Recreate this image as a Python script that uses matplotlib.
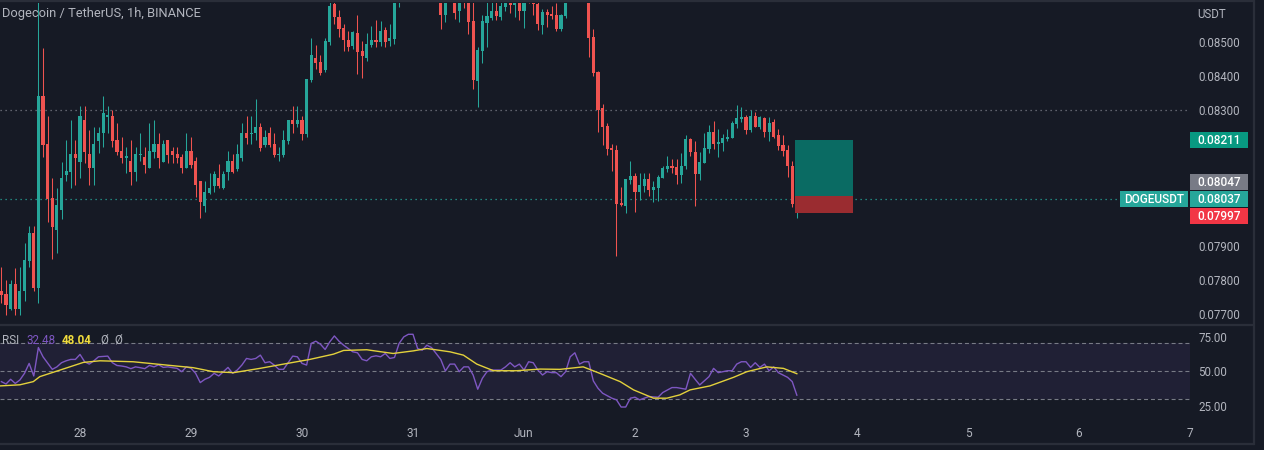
import numpy as np
import matplotlib.pyplot as plt
from matplotlib.patches import Rectangle
from matplotlib.lines import Line2D

W, H = 1264, 450
BG = "#161a25"
TXT = "#b2b5be"
UP = "#26a69a"
DOWN = "#ef5350"
GRID = "#787b86"
SEP = "#2a2e39"

plt.rcParams["font.family"] = ["Roboto", "DejaVu Sans"]

# ---- 1h candles, DOGE/USDT (first candle = 27 May 07:00) ----
opens = [
    0.07768, 0.07759, 0.07715, 0.07788, 0.07715, 0.07768, 0.07856, 0.07938, 0.07776, 0.08341,
    0.08200, 0.08041, 0.07947, 0.08006, 0.08109, 0.08118, 0.08171, 0.08147, 0.08271, 0.08171,
    0.08129, 0.08209, 0.08232, 0.08279, 0.08282, 0.08212, 0.08179, 0.08159, 0.08150, 0.08118,
    0.08168, 0.08162, 0.08129, 0.08176, 0.08200, 0.08147, 0.08212, 0.08179, 0.08171, 0.08162,
    0.08129, 0.08179, 0.08150, 0.08091, 0.08018, 0.08056, 0.08076, 0.08100, 0.08071, 0.08118,
    0.08150, 0.08126, 0.08159, 0.08232, 0.08229, 0.08232, 0.08250, 0.08197, 0.08232, 0.08200,
    0.08168, 0.08168, 0.08209, 0.08271, 0.08259, 0.08271, 0.08229, 0.08388, 0.08453, 0.08441,
    0.08418, 0.08500, 0.08612, 0.08573, 0.08541, 0.08506, 0.08488, 0.08526, 0.08474, 0.08453,
    0.08491, 0.08506, 0.08500, 0.08535, 0.08503, 0.08509, 0.08641, 0.08682, 0.08665, 0.08706,
    0.08676, 0.08653, 0.08694, 0.08729, 0.08682, 0.08647, 0.08579, 0.08635, 0.08647, 0.08591,
    0.08641, 0.08626, 0.08562, 0.08385, 0.08474, 0.08556, 0.08571, 0.08591, 0.08573, 0.08603,
    0.08629, 0.08609, 0.08626, 0.08591, 0.08635, 0.08626, 0.08612, 0.08550, 0.08588, 0.08582,
    0.08579, 0.08538, 0.08576, 0.08635, 0.08653, 0.08641, 0.08659, 0.08635, 0.08515, 0.08412,
    0.08306, 0.08253, 0.08188, 0.08182, 0.08026, 0.08018, 0.08094, 0.08106, 0.08059, 0.08076,
    0.08097, 0.08065, 0.08071, 0.08100, 0.08126, 0.08135, 0.08132, 0.08109, 0.08135, 0.08215,
    0.08176, 0.08112, 0.08144, 0.08185, 0.08235, 0.08200, 0.08203, 0.08215, 0.08218, 0.08259,
    0.08274, 0.08279, 0.08241, 0.08282, 0.08250, 0.08276, 0.08235, 0.08265, 0.08226, 0.08197,
    0.08182, 0.08135, 0.08024,
]
highs = [
    0.07838, 0.07800, 0.07800, 0.07835, 0.07838, 0.07909, 0.07959, 0.07959, 0.08653, 0.08482,
    0.08282, 0.08100, 0.08071, 0.08147, 0.08212, 0.08271, 0.08212, 0.08312, 0.08312, 0.08241,
    0.08250, 0.08250, 0.08341, 0.08312, 0.08300, 0.08262, 0.08221, 0.08191, 0.08212, 0.08191,
    0.08232, 0.08191, 0.08262, 0.08271, 0.08232, 0.08212, 0.08212, 0.08191, 0.08191, 0.08171,
    0.08232, 0.08221, 0.08162, 0.08091, 0.08091, 0.08115, 0.08121, 0.08141, 0.08121, 0.08179,
    0.08171, 0.08200, 0.08262, 0.08282, 0.08282, 0.08332, 0.08262, 0.08241, 0.08250, 0.08232,
    0.08191, 0.08241, 0.08271, 0.08312, 0.08312, 0.08282, 0.08391, 0.08512, 0.08491, 0.08462,
    0.08512, 0.08629, 0.08632, 0.08594, 0.08553, 0.08532, 0.08532, 0.08579, 0.08503, 0.08526,
    0.08547, 0.08565, 0.08562, 0.08544, 0.08553, 0.08659, 0.08700, 0.08712, 0.08729, 0.08723,
    0.08700, 0.08712, 0.08753, 0.08741, 0.08706, 0.08665, 0.08659, 0.08671, 0.08659, 0.08653,
    0.08665, 0.08647, 0.08624, 0.08485, 0.08579, 0.08624, 0.08624, 0.08624, 0.08624, 0.08647,
    0.08641, 0.08641, 0.08638, 0.08647, 0.08653, 0.08641, 0.08624, 0.08597, 0.08597, 0.08606,
    0.08615, 0.08582, 0.08653, 0.08671, 0.08676, 0.08676, 0.08682, 0.08653, 0.08538, 0.08415,
    0.08318, 0.08262, 0.08200, 0.08197, 0.08074, 0.08097, 0.08150, 0.08115, 0.08115, 0.08115,
    0.08115, 0.08091, 0.08109, 0.08135, 0.08165, 0.08156, 0.08156, 0.08174, 0.08226, 0.08218,
    0.08209, 0.08176, 0.08232, 0.08256, 0.08268, 0.08244, 0.08229, 0.08244, 0.08268, 0.08315,
    0.08309, 0.08285, 0.08300, 0.08294, 0.08282, 0.08279, 0.08279, 0.08274, 0.08244, 0.08226,
    0.08197, 0.08150, 0.08050,
]
lows = [
    0.07732, 0.07697, 0.07712, 0.07697, 0.07697, 0.07738, 0.07838, 0.07768, 0.07732, 0.08162,
    0.07971, 0.07862, 0.07879, 0.07979, 0.08091, 0.08071, 0.08079, 0.08100, 0.08144, 0.08079,
    0.08079, 0.08174, 0.08191, 0.08232, 0.08191, 0.08168, 0.08144, 0.08115, 0.08079, 0.08091,
    0.08150, 0.08115, 0.08129, 0.08159, 0.08129, 0.08147, 0.08144, 0.08144, 0.08144, 0.08115,
    0.08129, 0.08129, 0.08044, 0.07982, 0.08000, 0.08053, 0.08059, 0.08071, 0.08068, 0.08094,
    0.08115, 0.08121, 0.08150, 0.08200, 0.08200, 0.08212, 0.08179, 0.08191, 0.08191, 0.08162,
    0.08150, 0.08162, 0.08200, 0.08232, 0.08250, 0.08212, 0.08221, 0.08382, 0.08421, 0.08403,
    0.08412, 0.08491, 0.08553, 0.08515, 0.08474, 0.08474, 0.08479, 0.08406, 0.08394, 0.08444,
    0.08485, 0.08485, 0.08488, 0.08485, 0.08488, 0.08494, 0.08603, 0.08641, 0.08647, 0.08653,
    0.08635, 0.08641, 0.08676, 0.08665, 0.08632, 0.08538, 0.08559, 0.08626, 0.08568, 0.08559,
    0.08600, 0.08524, 0.08362, 0.08309, 0.08438, 0.08485, 0.08565, 0.08565, 0.08565, 0.08591,
    0.08585, 0.08573, 0.08565, 0.08541, 0.08615, 0.08579, 0.08535, 0.08524, 0.08544, 0.08568,
    0.08532, 0.08532, 0.08571, 0.08629, 0.08629, 0.08621, 0.08626, 0.08456, 0.08400, 0.08235,
    0.08197, 0.08168, 0.08121, 0.07871, 0.08018, 0.07997, 0.08082, 0.08000, 0.08035, 0.08059,
    0.08047, 0.08029, 0.08032, 0.08100, 0.08118, 0.08115, 0.08082, 0.08085, 0.08126, 0.08165,
    0.08018, 0.08094, 0.08144, 0.08174, 0.08185, 0.08162, 0.08179, 0.08209, 0.08218, 0.08247,
    0.08265, 0.08229, 0.08235, 0.08250, 0.08244, 0.08221, 0.08209, 0.08218, 0.08182, 0.08165,
    0.08103, 0.08015, 0.07982,
]
closes = [
    0.07756, 0.07726, 0.07788, 0.07715, 0.07768, 0.07859, 0.07938, 0.07776, 0.08341, 0.08197,
    0.08038, 0.07956, 0.08021, 0.08100, 0.08121, 0.08171, 0.08159, 0.08282, 0.08176, 0.08129,
    0.08200, 0.08232, 0.08291, 0.08285, 0.08209, 0.08176, 0.08159, 0.08165, 0.08118, 0.08171,
    0.08171, 0.08138, 0.08179, 0.08200, 0.08159, 0.08200, 0.08168, 0.08168, 0.08159, 0.08129,
    0.08179, 0.08138, 0.08079, 0.08029, 0.08059, 0.08071, 0.08112, 0.08076, 0.08112, 0.08150,
    0.08118, 0.08171, 0.08232, 0.08218, 0.08232, 0.08250, 0.08188, 0.08221, 0.08197, 0.08168,
    0.08171, 0.08212, 0.08271, 0.08259, 0.08271, 0.08229, 0.08391, 0.08462, 0.08438, 0.08409,
    0.08503, 0.08606, 0.08573, 0.08538, 0.08506, 0.08485, 0.08529, 0.08471, 0.08459, 0.08494,
    0.08506, 0.08500, 0.08532, 0.08500, 0.08512, 0.08647, 0.08682, 0.08665, 0.08706, 0.08676,
    0.08653, 0.08694, 0.08729, 0.08682, 0.08647, 0.08579, 0.08641, 0.08647, 0.08585, 0.08638,
    0.08626, 0.08559, 0.08388, 0.08476, 0.08562, 0.08576, 0.08591, 0.08576, 0.08606, 0.08629,
    0.08609, 0.08626, 0.08591, 0.08629, 0.08626, 0.08612, 0.08553, 0.08588, 0.08579, 0.08576,
    0.08538, 0.08579, 0.08635, 0.08653, 0.08641, 0.08659, 0.08635, 0.08512, 0.08409, 0.08300,
    0.08250, 0.08185, 0.08182, 0.08024, 0.08021, 0.08097, 0.08106, 0.08059, 0.08079, 0.08097,
    0.08065, 0.08074, 0.08103, 0.08129, 0.08135, 0.08129, 0.08109, 0.08135, 0.08215, 0.08176,
    0.08112, 0.08147, 0.08188, 0.08235, 0.08200, 0.08206, 0.08218, 0.08221, 0.08262, 0.08276,
    0.08279, 0.08241, 0.08282, 0.08250, 0.08279, 0.08235, 0.08262, 0.08221, 0.08194, 0.08179,
    0.08135, 0.08024, 0.08037,
]
first_hour = -17  # hours relative to 28 May 00:00

rsi_hours = [
    -17, -16, -15, -14, -13, -12, -11, -10, -9, -8, -6, -5, -4, -3, -2, -1, 0, 1, 2, 3,
    4, 6, 7, 8, 9, 10, 11, 12, 13, 14, 15, 16, 17, 18, 19, 20, 21, 22, 23, 24,
    25, 26, 27, 28, 29, 30, 31, 32, 33, 34, 35, 36, 37, 38, 39, 40, 41, 42, 43, 44,
    45, 46, 47, 48, 49, 50, 51, 52, 53, 54, 55, 56, 57, 59, 60, 61, 62, 63, 64, 65,
    66, 67, 68, 69, 70, 71, 72, 73, 74, 75, 76, 78, 79, 80, 81, 82, 83, 84, 85, 86,
    87, 88, 89, 91, 92, 93, 94, 95, 96, 97, 98, 99, 100, 101, 102, 103, 104, 105, 106, 107,
    108, 109, 110, 111, 112, 113, 115, 116, 117, 118, 119, 120, 121, 122, 123, 125, 126, 128, 129, 131,
    132, 133, 134, 136, 137, 138, 140, 141, 142, 143, 144, 145, 146, 147, 148, 149, 150, 151, 153, 154,
    155,
]
rsi_values = [
    42.3, 40.6, 44.0, 41.0, 43.5, 48.3, 55.5, 46.4, 67.0, 60.3, 51.2, 53.0, 56.0, 57.4, 58.4, 58.4, 62.0, 56.7, 55.0, 57.4,
    60.3, 60.8, 56.0, 54.0, 53.6, 53.0, 51.7, 53.0, 52.4, 51.7, 54.0, 53.0, 54.5, 52.6, 53.0, 52.4, 51.9, 49.5, 53.0, 52.0,
    48.3, 41.6, 44.0, 45.4, 48.3, 46.4, 49.5, 52.6, 48.3, 50.7, 54.3, 59.1, 58.4, 59.1, 61.5, 56.0, 56.7, 54.3, 51.2, 51.2,
    56.0, 60.8, 60.3, 55.5, 54.3, 70.0, 71.6, 69.4, 65.6, 71.1, 75.4, 71.6, 68.7, 63.9, 63.2, 58.4, 57.4, 60.3, 61.0, 60.3,
    62.7, 59.1, 59.8, 70.0, 74.7, 76.6, 76.6, 66.3, 65.1, 68.7, 67.0, 58.4, 50.0, 55.0, 55.0, 49.5, 53.0, 53.0, 47.1, 36.8,
    44.7, 49.5, 50.7, 50.7, 53.0, 56.0, 53.0, 55.0, 50.7, 56.7, 56.0, 50.7, 47.1, 49.5, 48.8, 48.8, 45.9, 49.5, 60.3, 63.2,
    55.0, 56.7, 56.7, 42.8, 37.5, 33.9, 30.3, 29.1, 23.9, 23.9, 30.3, 31.0, 29.1, 30.3, 31.5, 31.0, 34.4, 38.0, 38.0, 36.8,
    48.3, 44.0, 39.9, 45.9, 51.9, 48.8, 50.2, 50.2, 55.0, 56.7, 56.7, 52.6, 56.0, 52.6, 55.0, 50.2, 53.0, 48.8, 45.4, 42.3,
    32.48,
]
ma_hours = [
    -17.3, -13.0, -10.1, -8.7, -4.3, 0.7, 4.3, 11.5, 18.7, 24.5, 28.8, 33.2, 38.9, 44.0, 49.7, 54.8,
    57.0, 62.0, 67.7, 72.1, 75.0, 80.0, 82.9, 85.8, 89.4, 94.4, 99.5, 103.8, 108.8, 112.4, 116.8,
    119.7, 124.0, 126.9, 129.7, 131.9, 136.2, 141.3, 144.2, 148.5, 152.1, 155.0,
]
ma_values = [
    39.2, 40.0, 42.3, 45.9, 50.7, 56.2, 57.4, 56.7, 54.3, 52.4, 49.5, 48.8, 51.9, 55.0, 58.4, 62.2,
    64.9, 65.4, 62.7, 64.6, 66.3, 63.9, 61.5, 55.0, 50.2, 50.2, 51.4, 51.2, 53.0, 48.3, 42.3,
    36.3, 30.3, 30.3, 32.7, 36.3, 39.2, 45.4, 49.5, 53.0, 51.9, 48.04,
]

# ---- long position tool ----
entry, target, stop = 0.08047, 0.08211, 0.07997
pos_start, pos_end = 154.6, 167.1
level_line = 0.08300

price_ticks = [0.077, 0.078, 0.079, 0.080, 0.081, 0.082, 0.083, 0.084, 0.085]
hidden_ticks = [0.080, 0.081, 0.082]  # covered by the price tags in the screenshot

day_ticks = [0, 24, 48, 72, 96, 120, 144, 168, 192, 216, 240]
day_labels = ["28", "29", "30", "31", "Jun", "2", "3", "4", "5", "6", "7"]

o = np.array(opens)
c = np.array(closes)
hours = np.arange(len(closes)) + first_hour
is_up = c >= o
cols = np.where(is_up, UP, DOWN)


def px_rect(x0, y0, x1, y1):
    # pixel box (top-left origin) -> figure fraction rect
    return [x0 / W, 1 - y1 / H, (x1 - x0) / W, (y1 - y0) / H]


fig = plt.figure(figsize=(W / 100, H / 100), dpi=100, facecolor=BG)
ax = fig.add_axes(px_rect(0, 3, 1190, 323))
rx = fig.add_axes(px_rect(0, 326, 1190, 412), sharex=ax)
for a in (ax, rx):
    a.set_facecolor(BG)
    for s in a.spines.values():
        s.set_visible(False)

# ---- price pane ----
px_per_price = 34000  # screen scale, used only for a 1px minimum body
ax.vlines(hours, lows, highs, colors=cols, lw=0.75, zorder=2)
body_h = np.maximum(np.abs(c - o), 1.0 / px_per_price)
ax.bar(hours, body_h, bottom=np.minimum(o, c), width=0.66, color=cols, lw=0, zorder=3)

ax.axhline(level_line, color=GRID, ls=(0, (1, 3)), lw=0.9, zorder=1)
ax.axhline(closes[-1], color=UP, ls=(0, (1, 3)), lw=0.9, zorder=1)

ax.add_patch(Rectangle((pos_start, entry), pos_end - pos_start, target - entry,
                       facecolor="#0a6b63", edgecolor="none", zorder=4))
ax.add_patch(Rectangle((pos_start, stop), pos_end - pos_start, entry - stop,
                       facecolor="#9a2c30", edgecolor="none", zorder=4))

ax.set_xlim(-17.3, 240.01)
ax.set_ylim(0.0767353, 0.0861471)
ax.yaxis.tick_right()
ax.set_yticks(price_ticks)
ax.set_yticklabels(["" if any(abs(v - h) < 1e-7 for h in hidden_ticks) else f"{v:.5f}"
                    for v in price_ticks])
ax.tick_params(axis="y", length=0, pad=6, labelcolor=TXT, labelsize=8.3)
ax.tick_params(axis="x", bottom=False, labelbottom=False)

# ---- RSI pane ----
rx.axhspan(30, 70, color="#7e57c2", alpha=0.1, lw=0)
for lvl in (70, 50, 30):
    rx.axhline(lvl, color=GRID, ls=(0, (3.6, 2.6)), lw=0.8)
rx.plot(rsi_hours, rsi_values, color="#7e57c2", lw=1.0)
rx.plot(ma_hours, ma_values, color="#e3d13c", lw=1.0)
rx.set_ylim(20.29, 82.61)
rx.yaxis.tick_right()
rx.set_yticks([75, 50, 25])
rx.set_yticklabels(["75.00", "50.00", "25.00"])
rx.tick_params(axis="y", length=0, pad=6, labelcolor=TXT, labelsize=8.3)
rx.set_xticks(day_ticks)
rx.set_xticklabels(day_labels)
rx.tick_params(axis="x", length=0, pad=11, labelcolor=TXT, labelsize=8.6)


# ---- price tags on the right axis ----
def tag(price, text, color, shift=0, x0=1190, x1=1248, h=16):
    yd = ax.transData.transform((0, price))[1] + shift
    fig.add_artist(Rectangle((x0 / W, (yd - h / 2) / H), (x1 - x0) / W, h / H,
                             transform=fig.transFigure, facecolor=color,
                             edgecolor="none", zorder=5))
    fig.text((x0 + x1) / 2 / W, yd / H, text, color="white", fontsize=8.5,
             ha="center", va="center", zorder=6, fontweight="medium")


tag_h = 16
tag(target, f"{target:.5f}", "#089981")
tag(closes[-1], f"{entry:.5f}", GRID, shift=tag_h + 1)
tag(closes[-1], f"{closes[-1]:.5f}", UP)
tag(closes[-1], f"{stop:.5f}", "#f23645", shift=-(tag_h + 1))
tag(closes[-1], "DOGEUSDT", UP, x0=1120, x1=1188)

# ---- texts ----
fig.text(2 / W, 1 - 14 / H, "Dogecoin / TetherUS, 1h, BINANCE", color=TXT,
         fontsize=9.3, va="center")
fig.text(1197 / W, 1 - 14 / H, "USDT", color=TXT, fontsize=8.3, va="center")

leg_y = 1 - 340 / H
fig.text(2 / W, leg_y, "RSI", color=TXT, fontsize=8.4, va="center")
fig.text(26 / W, leg_y, f"{rsi_values[-1]:.2f}", color="#7e57c2", fontsize=8.4, va="center")
fig.text(62 / W, leg_y, f"{ma_values[-1]:.2f}", color="#f0dc3c", fontsize=8.4,
         va="center", fontweight="bold")
fig.text(100 / W, leg_y, "Ø", color=TXT, fontsize=8.4, va="center")
fig.text(114 / W, leg_y, "Ø", color=TXT, fontsize=8.4, va="center")

# ---- pane separators ----
for yy in (1, 324.5, 444):
    fig.add_artist(Line2D([0, 1253 / W], [1 - yy / H, 1 - yy / H], color=SEP,
                          lw=1.6, transform=fig.transFigure))
fig.add_artist(Line2D([1253.5 / W, 1253.5 / W], [1 - 444 / H, 1], color=SEP,
                      lw=1.6, transform=fig.transFigure))

fig.savefig("out.png", dpi=100, facecolor=BG)
